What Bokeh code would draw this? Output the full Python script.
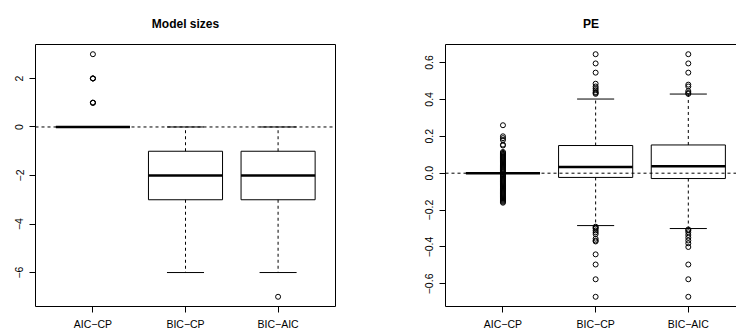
from bokeh.plotting import figure
from bokeh.layouts import row
from bokeh.models import Range1d, FixedTicker, Span, LinearAxis, CustomJSTickFormatter
from bokeh.embed import file_html
from bokeh.resources import INLINE

# ---------------- data ----------------
categories = ["AIC\u2212CP", "BIC\u2212CP", "BIC\u2212AIC"]

size_lower = [0, -6, -6]
size_q1 = [0, -3, -3]
size_median = [0, -2, -2]
size_q3 = [0, -1, -1]
size_upper = [0, 0, 0]
size_out_aic_cp = [3, 2, 2, 2, 1, 1, 1]
size_out_bic_cp = []
size_out_bic_aic = [-7]
size_ticks = [-6, -4, -2, 0, 2]
size_tick_labels = ["\u22126", "\u22124", "\u22122", "0", "2"]

pe_lower = [0, -0.284, -0.300]
pe_q1 = [0, -0.023, -0.029]
pe_median = [0, 0.034, 0.038]
pe_q3 = [0, 0.150, 0.153]
pe_upper = [0, 0.402, 0.429]
pe_out_aic_cp = [0.26, 0.20, 0.19, 0.18, 0.155, 0.15, 0.115, 0.11, 0.105, 0.10,
                 0.095, 0.09, 0.085, 0.08, 0.075, 0.07, 0.065, 0.06, 0.055, 0.05,
                 0.045, 0.04, 0.035, 0.03, 0.025, 0.02, 0.015, 0.01, 0.005,
                 -0.005, -0.01, -0.015, -0.02, -0.025, -0.03, -0.035, -0.04,
                 -0.045, -0.05, -0.055, -0.06, -0.065, -0.07, -0.075, -0.08,
                 -0.085, -0.09, -0.095, -0.10, -0.105, -0.11, -0.115, -0.12,
                 -0.125, -0.13, -0.135, -0.14, -0.145, -0.15, -0.155, -0.16]
pe_out_bic_cp = [0.645, 0.595, 0.545, 0.485, 0.47, 0.46, 0.45, 0.44, 0.435, 0.43,
                 -0.29, -0.295, -0.30, -0.31, -0.32, -0.33, -0.355, -0.365, -0.37,
                 -0.44, -0.495, -0.575, -0.67]
pe_out_bic_aic = [0.645, 0.595, 0.545, 0.48, 0.47, 0.445, 0.435, 0.43,
                  -0.305, -0.31, -0.32, -0.335, -0.35, -0.365, -0.38, -0.40,
                  -0.495, -0.575, -0.67]
pe_ticks = [-0.6, -0.4, -0.2, 0.0, 0.2, 0.4, 0.6]
pe_tick_labels = ["\u22120.6", "\u22120.4", "\u22120.2", "0.0", "0.2", "0.4", "0.6"]

FONT = "Liberation Sans"
LABEL_SIZE = "10.5px"


def fmt(tvals, tlabels):
    return CustomJSTickFormatter(args=dict(tvals=tvals, tlabels=tlabels), code="""
        for (let i = 0; i < tvals.length; i++) {
            if (Math.abs(tvals[i] - tick) < 1e-9) return tlabels[i];
        }
        return '';
    """)


def style_axis(ax):
    ax.major_tick_out = 6
    ax.major_tick_in = 0
    ax.minor_tick_line_color = None
    ax.major_tick_line_color = "black"
    ax.major_label_text_font = FONT
    ax.major_label_text_font_size = LABEL_SIZE
    ax.major_label_text_color = "black"


def panel(title, width, border_left, border_right, xr, yr, lower, q1, med, q3, upper,
          outliers, yticks, ylabels, full_box):
    p = figure(width=width, height=332, x_range=Range1d(*xr), y_range=Range1d(*yr),
               output_backend="svg", toolbar_location=None,
               min_border_left=border_left, min_border_right=border_right,
               min_border_top=44, min_border_bottom=0)
    p.grid.visible = False
    p.background_fill_color = "white"
    p.border_fill_color = "white"
    p.title.text = title
    p.title.align = "center"
    p.title.text_font = FONT
    p.title.text_font_size = "12px"
    p.title.text_font_style = "bold"
    p.title.text_color = "black"
    p.title.standoff = 28

    xpos = [i + 1 for i in range(len(categories))]
    p.xaxis.ticker = FixedTicker(ticks=xpos)
    p.xaxis.formatter = fmt(xpos, categories)
    p.xaxis.major_label_standoff = 5
    p.yaxis.ticker = FixedTicker(ticks=yticks)
    p.yaxis.formatter = fmt(yticks, ylabels)
    p.yaxis.major_label_orientation = "parallel"
    p.yaxis.major_label_standoff = 6
    style_axis(p.xaxis[0])
    style_axis(p.yaxis[0])

    if full_box:
        p.outline_line_color = "black"
        p.outline_line_alpha = 1.0
        p.outline_line_width = 1
        p.xaxis.axis_line_color = None
        p.yaxis.axis_line_color = None
    else:
        p.outline_line_color = None
        p.xaxis.axis_line_color = "black"
        p.yaxis.axis_line_color = "black"
        top = LinearAxis(ticker=FixedTicker(ticks=[]), axis_line_color="black",
                         major_label_text_font_size="0px", major_tick_line_color=None,
                         minor_tick_line_color=None)
        p.add_layout(top, "above")

    p.add_layout(Span(location=0, dimension="width", line_color="black",
                      line_width=1, line_dash="3 3"))

    bw, cw = 0.4, 0.2
    p.quad(left=[x - bw for x in xpos], right=[x + bw for x in xpos],
           bottom=q1, top=q3, fill_color=None, line_color="black", line_width=1)
    p.segment(x0=xpos, y0=q3, x1=xpos, y1=upper, line_color="black",
              line_width=1, line_dash="3 3")
    p.segment(x0=xpos, y0=q1, x1=xpos, y1=lower, line_color="black",
              line_width=1, line_dash="3 3")
    p.segment(x0=[x - cw for x in xpos], y0=upper, x1=[x + cw for x in xpos], y1=upper,
              line_color="black", line_width=1)
    p.segment(x0=[x - cw for x in xpos], y0=lower, x1=[x + cw for x in xpos], y1=lower,
              line_color="black", line_width=1)
    p.segment(x0=[x - bw for x in xpos], y0=med, x1=[x + bw for x in xpos], y1=med,
              line_color="black", line_width=2.5)

    ox, oy = [], []
    for x, vals in zip(xpos, outliers):
        ox += [x] * len(vals)
        oy += vals
    p.scatter(ox, oy, marker="circle", size=5, fill_color=None,
              line_color="black", line_width=1)
    return p


p1 = panel("Model sizes", 368, 35, 33, (0.38, 3.62), (-7.4, 3.4),
           size_lower, size_q1, size_median, size_q3, size_upper,
           [size_out_aic_cp, size_out_bic_cp, size_out_bic_aic],
           size_ticks, size_tick_labels, True)
p2 = panel("PE", 368, 77, 0, (0.38, 3.52), (-0.7226, 0.6976),
           pe_lower, pe_q1, pe_median, pe_q3, pe_upper,
           [pe_out_aic_cp, pe_out_bic_cp, pe_out_bic_aic],
           pe_ticks, pe_tick_labels, False)

layout = row(p1, p2)
open("out.html", "w").write(file_html(layout, INLINE))
